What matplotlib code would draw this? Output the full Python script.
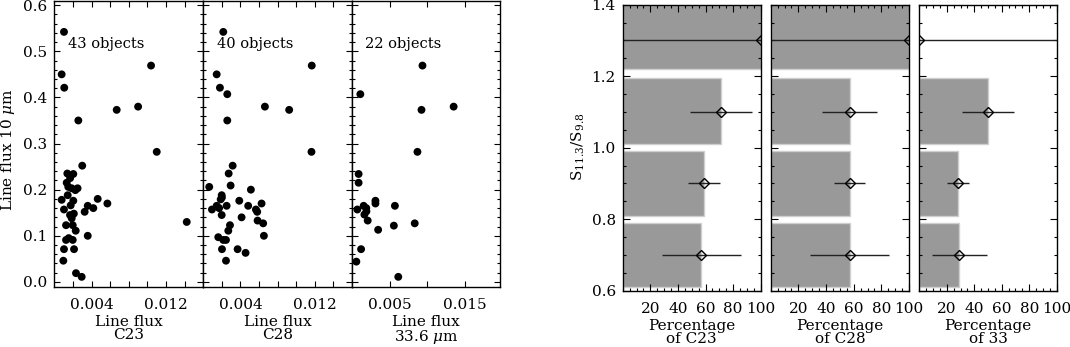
import numpy as np
import matplotlib
matplotlib.use("Agg")
import matplotlib.pyplot as plt
from matplotlib.ticker import MultipleLocator, FixedLocator, FuncFormatter

plt.rcParams['font.family'] = ['DejaVu Serif']
plt.rcParams['mathtext.fontset'] = 'dejavuserif'
plt.rcParams['font.size'] = 11

# ---- scatter data: line flux of 10 um feature vs other lines
c23_x = [0.00104, 0.00079, 0.00107, 0.00258, 0.0067, 0.0090, 0.01039, 0.0110, 0.01422, 0.0030,
         0.0014, 0.00204, 0.00133, 0.0015, 0.00187, 0.00226, 0.00079, 0.00144, 0.00204, 0.00176,
         0.00104, 0.00326, 0.00359, 0.00419, 0.00466, 0.0057, 0.00169, 0.00187, 0.00126, 0.00198,
         0.0023, 0.00359, 0.00126, 0.00155, 0.00198, 0.00104, 0.00212, 0.00097, 0.00233, 0.00294,
         0.0017, 0.0021, 0.0025]
c23_y = [0.542, 0.450, 0.421, 0.350, 0.373, 0.380, 0.469, 0.282, 0.130, 0.252,
         0.235, 0.234, 0.215, 0.206, 0.203, 0.199, 0.178, 0.188, 0.176, 0.166,
         0.157, 0.152, 0.165, 0.160, 0.180, 0.170, 0.145, 0.138, 0.123, 0.123,
         0.111, 0.100, 0.091, 0.095, 0.091, 0.071, 0.071, 0.046, 0.019, 0.011,
         0.225, 0.148, 0.203]

c28_x = [0.00215, 0.00144, 0.00179, 0.00258, 0.00258, 0.00663, 0.00924, 0.01167, 0.01164, 0.00316,
         0.00273, 0.00064, 0.00294, 0.00512, 0.00198, 0.00187, 0.00093, 0.00144, 0.00251, 0.00387,
         0.00483, 0.00627, 0.00566, 0.0058, 0.00198, 0.00412, 0.00287, 0.00269, 0.00584, 0.00644,
         0.00652, 0.00161, 0.00215, 0.00244, 0.00201, 0.00369, 0.00455, 0.00244, 0.0020, 0.0017]
c28_y = [0.542, 0.450, 0.421, 0.407, 0.350, 0.380, 0.373, 0.469, 0.282, 0.252,
         0.235, 0.206, 0.209, 0.200, 0.188, 0.179, 0.157, 0.165, 0.165, 0.176,
         0.165, 0.170, 0.157, 0.152, 0.145, 0.140, 0.123, 0.111, 0.133, 0.127,
         0.100, 0.097, 0.091, 0.091, 0.071, 0.071, 0.063, 0.046, 0.183, 0.160]

l33_x = [0.00938, 0.00925, 0.01353, 0.00871, 0.00312, 0.00312, 0.00571, 0.00348, 0.00557, 0.00835,
         0.00616, 0.00088, 0.00088, 0.00071, 0.00155, 0.00192, 0.00165, 0.00209, 0.00121, 0.00058,
         0.00111, 0.0019]
l33_y = [0.469, 0.373, 0.380, 0.282, 0.176, 0.170, 0.165, 0.113, 0.122, 0.127,
         0.011, 0.234, 0.215, 0.157, 0.165, 0.153, 0.146, 0.133, 0.071, 0.044,
         0.407, 0.160]

scatter_sets = [(c23_x, c23_y, "43 objects", "Line flux\nC23", 0.016),
                (c28_x, c28_y, "40 objects", "Line flux\nC28", 0.016),
                (l33_x, l33_y, "22 objects", "Line flux\n33.6 $\\mu$m", 0.0197)]

# ---- histogram data: percentage per S11.3/S9.8 bin
ratio_mid = [0.7, 0.9, 1.1, 1.3]
bin_lo = [0.61, 0.81, 1.01, 1.22]
bin_hi = [0.79, 0.99, 1.195, 1.40]
pct_c23 = [57, 59, 71, 100]
err_c23 = [28.5, 11.5, 22.5, 150]
pct_c28 = [57, 57, 57, 100]
err_c28 = [28.5, 11, 20, 150]
pct_33 = [29, 28, 50, 0]
err_33 = [20, 8, 19, 150]

hist_sets = [(pct_c23, err_c23, "Percentage\nof C23"),
             (pct_c28, err_c28, "Percentage\nof C28"),
             (pct_33, err_33, "Percentage\nof 33")]

W, H = 1070, 347
fig = plt.figure(figsize=(W / 100, H / 100), dpi=100)


def px_axes(x0, x1, ytop, ybot):
    return fig.add_axes([x0 / W, (H - ybot) / H, (x1 - x0) / W, (ybot - ytop) / H])


# left block
left_edges = [(54.3, 203.3), (203.3, 352.0), (352.0, 500.0)]
for i, (x0, x1) in enumerate(left_edges):
    xs, ys, note, xlab, xmax = scatter_sets[i]
    ax = px_axes(x0, x1, 1, 287)
    ax.scatter(xs, ys, s=32, color='black', edgecolors='none', zorder=3)
    ax.set_xlim(0, xmax)
    ax.set_ylim(-0.011, 0.609)
    if i < 2:
        ticks = np.arange(0.002, 0.0159, 0.002)
        shown = [0.004, 0.012]
    else:
        ticks = [0.005, 0.010, 0.015]
        shown = [0.005, 0.015]
    ax.xaxis.set_major_locator(FixedLocator(ticks))
    ax.xaxis.set_major_formatter(FuncFormatter(
        lambda v, p, shown=shown: ("%.3f" % v) if any(abs(v - s) < 1e-6 for s in shown) else ""))
    ax.yaxis.set_major_locator(MultipleLocator(0.1))
    ax.yaxis.set_minor_locator(MultipleLocator(0.02))
    ax.yaxis.set_major_formatter(FuncFormatter(lambda v, p: "%.1f" % v))
    ax.tick_params(axis='both', which='both', direction='in', top=True, right=True, width=0.8)
    ax.tick_params(axis='both', which='major', length=4, pad=8)
    ax.tick_params(axis='y', which='major', pad=5)
    ax.tick_params(axis='y', which='minor', length=2)
    if i > 0:
        ax.set_yticklabels([])
    for sp in ax.spines.values():
        sp.set_linewidth(1.0)
    ax.text(0.09, 0.85, note, transform=ax.transAxes, va='center', ha='left', fontsize=10.5)
    fig.text((x0 + x1) / 2 / W, (H - 315) / H, xlab, ha='center', va='top', linespacing=0.95)

fig.text(8 / W, (H - 150) / H, "Line flux 10 $\\mu$m", rotation=90, ha='center', va='center')

# right block
right_edges = [(622.7, 760.7), (770.7, 909.0), (919.3, 1056.7)]
for i, (x0, x1) in enumerate(right_edges):
    pct, err, xlab = hist_sets[i]
    ax = px_axes(x0, x1, 4.7, 290.7)
    for lo, hi, p in zip(bin_lo, bin_hi, pct):
        if p > 0:
            ax.barh((lo + hi) / 2, p, height=hi - lo, left=0, color='#999999',
                    edgecolor='#cfcfcf', linewidth=1.0, zorder=1)
    ax.errorbar(pct, ratio_mid, xerr=err, fmt='none', ecolor='#222222', elinewidth=1.0,
                capsize=0, zorder=2)
    ax.plot(pct, ratio_mid, linestyle='none', marker='D', markersize=5,
            markerfacecolor='none', markeredgecolor='black', markeredgewidth=1.0, zorder=3)
    ax.set_xlim(0, 100)
    ax.set_ylim(0.6, 1.4)
    ax.xaxis.set_major_locator(FixedLocator([20, 40, 60, 80, 100]))
    ax.xaxis.set_minor_locator(MultipleLocator(5))
    ax.yaxis.set_major_locator(MultipleLocator(0.2))
    ax.yaxis.set_minor_locator(MultipleLocator(0.05))
    ax.yaxis.set_major_formatter(FuncFormatter(lambda v, p: "%.1f" % v))
    ax.tick_params(axis='both', which='both', direction='in', top=True, right=True, width=0.8)
    ax.tick_params(axis='both', which='major', length=5)
    ax.tick_params(axis='x', which='major', pad=8)
    ax.tick_params(axis='y', which='major', pad=5)
    ax.tick_params(axis='both', which='minor', length=2.5)
    if i > 0:
        ax.set_yticklabels([])
    for sp in ax.spines.values():
        sp.set_linewidth(1.0)
    fig.text((x0 + x1) / 2 / W, (H - 319) / H, xlab, ha='center', va='top', linespacing=0.9)

fig.text(578 / W, (H - 147) / H, "S$_{11.3}$/S$_{9.8}$", rotation=90, ha='center', va='center')

fig.savefig("out.png", dpi=100)
